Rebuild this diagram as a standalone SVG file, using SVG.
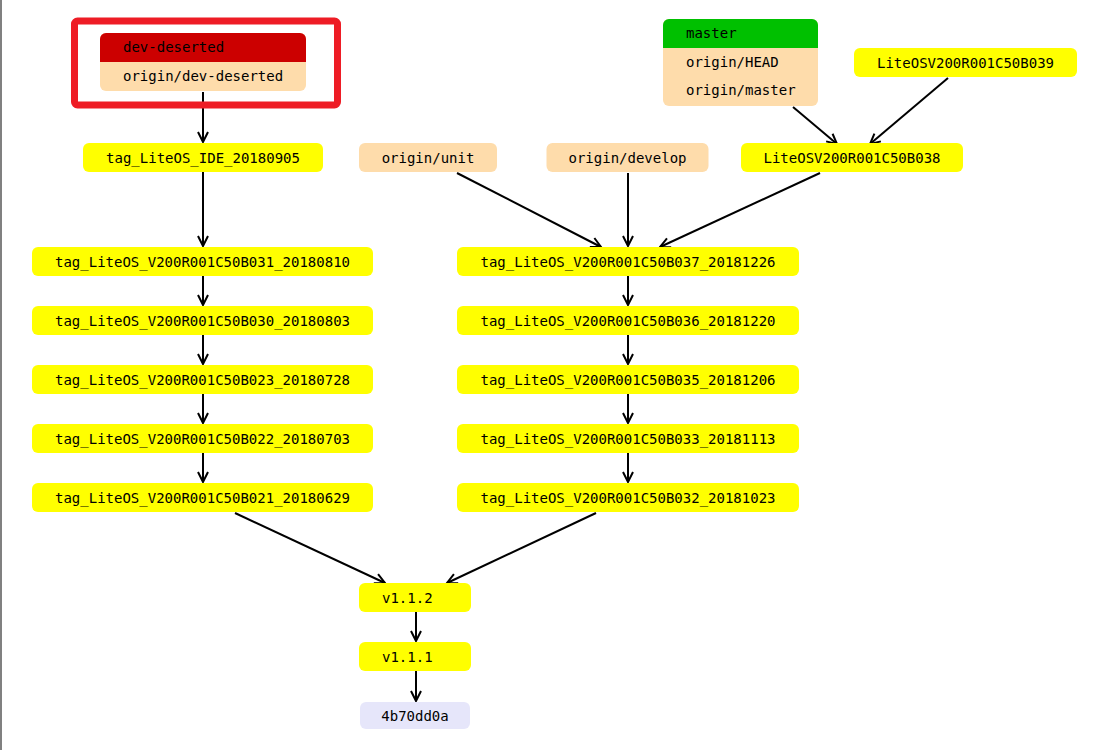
<svg xmlns="http://www.w3.org/2000/svg" width="1108" height="750" viewBox="0 0 1108 750">
<defs>
<style>
text{font-family:"DejaVu Sans Mono","Liberation Mono",monospace;font-size:14px;fill:#000}
.c{text-anchor:middle}
.y{fill:#ffff00}
.p{fill:#fedcab}
.l{fill:#e6e6fa}
.e{stroke:#000;stroke-width:2;fill:none;marker-end:url(#ah)}
</style>
<marker id="ah" markerWidth="14" markerHeight="14" refX="12" refY="7" orient="auto" markerUnits="userSpaceOnUse"><path d="M2,2 L12,7 L2,12" fill="none" stroke="#000" stroke-width="2"/></marker>
</defs>
<rect width="1108" height="750" fill="#fff"/>
<line x1="1" y1="0" x2="1" y2="750" stroke="#808080" stroke-width="2"/>
<g id="connectors">
<line class="e" x1="203" y1="92" x2="203" y2="142"/>
<line class="e" x1="203" y1="172" x2="203" y2="246"/>
<line class="e" x1="203" y1="276" x2="203" y2="305"/>
<line class="e" x1="203" y1="335" x2="203" y2="364"/>
<line class="e" x1="203" y1="394" x2="203" y2="423"/>
<line class="e" x1="203" y1="453" x2="203" y2="482"/>
<line class="e" x1="457" y1="173" x2="601" y2="247"/>
<line class="e" x1="628" y1="173" x2="628" y2="246"/>
<line class="e" x1="820" y1="173" x2="660" y2="247"/>
<line class="e" x1="793" y1="107" x2="837" y2="144"/>
<line class="e" x1="948" y1="78" x2="870" y2="144"/>
<line class="e" x1="628" y1="276" x2="628" y2="305"/>
<line class="e" x1="628" y1="335" x2="628" y2="364"/>
<line class="e" x1="628" y1="394" x2="628" y2="423"/>
<line class="e" x1="628" y1="453" x2="628" y2="482"/>
<line class="e" x1="235" y1="513" x2="385" y2="583"/>
<line class="e" x1="596" y1="513" x2="447" y2="583"/>
<line class="e" x1="416" y1="612" x2="416" y2="641"/>
<line class="e" x1="416" y1="671" x2="416" y2="701"/>
</g>
<rect x="74.5" y="21" width="263" height="84" rx="3" fill="none" stroke="#ee1c25" stroke-width="7"/>
<g id="n-dev-deserted">
<rect class="p" x="100" y="33" width="206" height="58" rx="6"/>
<path d="M100,62 V39 a6,6 0 0 1 6,-6 H300 a6,6 0 0 1 6,6 V62 Z" fill="#cc0000"/>
<text x="123" y="52">dev-deserted</text>
<text x="123" y="81">origin/dev-deserted</text>
</g>
<g id="n-master">
<rect class="p" x="663" y="19" width="155" height="87" rx="6"/>
<path d="M663,48 V25 a6,6 0 0 1 6,-6 H812 a6,6 0 0 1 6,6 V48 Z" fill="#00c000"/>
<text x="686" y="38">master</text>
<text x="686" y="67">origin/HEAD</text>
<text x="686" y="95">origin/master</text>
</g>
<g id="n-b039"><rect class="y" x="854" y="48" width="223" height="29" rx="6"/><text class="c" x="965.5" y="67.5">LiteOSV200R001C50B039</text></g>
<g id="n-ide"><rect class="y" x="83" y="143" width="240" height="29" rx="6"/><text class="c" x="203" y="162.5">tag_LiteOS_IDE_20180905</text></g>
<g id="n-unit"><rect class="p" x="359" y="143" width="138" height="29" rx="6"/><text class="c" x="428" y="162.5">origin/unit</text></g>
<g id="n-develop"><rect class="p" x="546.5" y="143" width="162" height="29" rx="6"/><text class="c" x="627.5" y="162.5">origin/develop</text></g>
<g id="n-b038"><rect class="y" x="741" y="143" width="222" height="29" rx="6"/><text class="c" x="852" y="162.5">LiteOSV200R001C50B038</text></g>
<g id="n-b031"><rect class="y" x="32" y="247" width="341" height="29" rx="6"/><text class="c" x="202.5" y="266.5">tag_LiteOS_V200R001C50B031_20180810</text></g>
<g id="n-b030"><rect class="y" x="32" y="306" width="341" height="29" rx="6"/><text class="c" x="202.5" y="325.5">tag_LiteOS_V200R001C50B030_20180803</text></g>
<g id="n-b023"><rect class="y" x="32" y="365" width="341" height="29" rx="6"/><text class="c" x="202.5" y="384.5">tag_LiteOS_V200R001C50B023_20180728</text></g>
<g id="n-b022"><rect class="y" x="32" y="424" width="341" height="29" rx="6"/><text class="c" x="202.5" y="443.5">tag_LiteOS_V200R001C50B022_20180703</text></g>
<g id="n-b021"><rect class="y" x="32" y="483" width="341" height="29" rx="6"/><text class="c" x="202.5" y="502.5">tag_LiteOS_V200R001C50B021_20180629</text></g>
<g id="n-b037"><rect class="y" x="457" y="247" width="342" height="29" rx="6"/><text class="c" x="628" y="266.5">tag_LiteOS_V200R001C50B037_20181226</text></g>
<g id="n-b036"><rect class="y" x="457" y="306" width="342" height="29" rx="6"/><text class="c" x="628" y="325.5">tag_LiteOS_V200R001C50B036_20181220</text></g>
<g id="n-b035"><rect class="y" x="457" y="365" width="342" height="29" rx="6"/><text class="c" x="628" y="384.5">tag_LiteOS_V200R001C50B035_20181206</text></g>
<g id="n-b033"><rect class="y" x="457" y="424" width="342" height="29" rx="6"/><text class="c" x="628" y="443.5">tag_LiteOS_V200R001C50B033_20181113</text></g>
<g id="n-b032"><rect class="y" x="457" y="483" width="342" height="29" rx="6"/><text class="c" x="628" y="502.5">tag_LiteOS_V200R001C50B032_20181023</text></g>
<g id="n-v112"><rect class="y" x="359" y="583" width="112" height="29" rx="6"/><text x="382" y="602.5">v1.1.2</text></g>
<g id="n-v111"><rect class="y" x="359" y="642" width="112" height="29" rx="6"/><text x="382" y="661.5">v1.1.1</text></g>
<g id="n-root"><rect class="l" x="360" y="702" width="110" height="27" rx="6"/><text class="c" x="415" y="720.5">4b70dd0a</text></g>
</svg>
